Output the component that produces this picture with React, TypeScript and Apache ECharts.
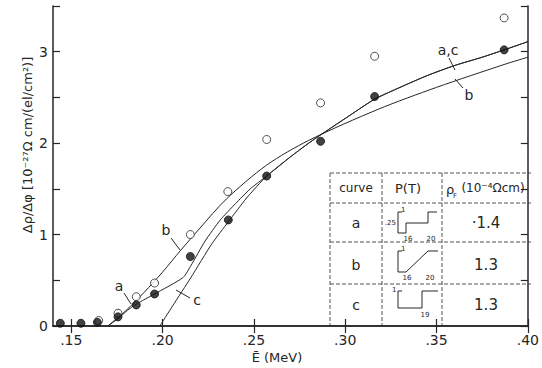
import React, { useEffect, useRef } from "react";
import * as echarts from "echarts";

// ---- data ----
const xTickValues = [0.15, 0.2, 0.25, 0.3, 0.35, 0.4];
const yLabelValues = [0, 1, 2, 3];

const openE = [0.165, 0.1756, 0.1856, 0.1956, 0.2152, 0.2357, 0.257, 0.2865, 0.3161, 0.387];
const openY = [0.06, 0.14, 0.32, 0.47, 1.0, 1.47, 2.04, 2.44, 2.95, 3.37];

const filledE = [0.144, 0.1553, 0.1643, 0.1756, 0.1856, 0.1956, 0.2152, 0.236, 0.257, 0.2865, 0.3161, 0.387];
const filledY = [0.03, 0.03, 0.04, 0.1, 0.23, 0.35, 0.76, 1.16, 1.64, 2.02, 2.51, 3.02];

const curveBE = [0.17, 0.18, 0.19, 0.2, 0.21, 0.22, 0.235, 0.257, 0.28, 0.318, 0.35, 0.387, 0.4];
const curveBY = [0, 0.17, 0.37, 0.59, 0.83, 1.06, 1.39, 1.76, 2.03, 2.37, 2.61, 2.86, 2.94];

const curveAE = [0.17, 0.1756, 0.1807, 0.1856, 0.1956, 0.2112, 0.2155, 0.2233, 0.2316, 0.24, 0.248];
const curveAY = [0, 0.08, 0.17, 0.24, 0.35, 0.53, 0.66, 0.93, 1.16, 1.34, 1.5];

const curveCE = [0.1985, 0.2055, 0.2155, 0.227, 0.236, 0.246];
const curveCY = [0, 0.22, 0.53, 0.9, 1.14, 1.4];

// shared tail of curves a and c
const curveACE = [0.257, 0.27, 0.28, 0.2865, 0.3, 0.316, 0.33, 0.345, 0.36, 0.375, 0.387, 0.4];
const curveACY = [1.64, 1.85, 2.0, 2.09, 2.27, 2.48, 2.61, 2.74, 2.85, 2.94, 3.02, 3.11];

const tableRows = ["a", "b", "c"];
const tableRho = ["·1.4", "1.3", "1.3"];

const FONT = "DejaVu Sans";
const INK = "#262626";

function pairs(xs: number[], ys: number[]) {
  return xs.map((x, i) => [x, ys[i]]);
}

export default function App() {
  const ref = useRef<HTMLDivElement>(null);

  useEffect(() => {
    if (!ref.current) return;
    const chart = echarts.init(ref.current, null, { renderer: "svg" });

    const lineStyle = { color: INK, width: 1 };
    const dash = { stroke: "#555", lineWidth: 1, lineDash: [4, 2] };
    const thin = { stroke: INK, lineWidth: 1, fill: null as any };
    const small = { fontSize: 7, fontFamily: FONT, fill: INK };

    const txt = (text: string, x: number, y: number, size: number, extra: any = {}) => ({
      type: "text",
      x,
      y,
      style: {
        text,
        fontSize: size,
        fontFamily: FONT,
        fill: INK,
        textAlign: "center",
        textVerticalAlign: "middle",
        ...extra,
      },
    });
    const seg = (x1: number, y1: number, x2: number, y2: number, style: any = { stroke: INK, lineWidth: 1 }) => ({
      type: "line",
      shape: { x1, y1, x2, y2 },
      style,
    });
    const poly = (points: number[][]) => ({ type: "polyline", shape: { points }, style: thin });

    const rowY = [223, 265, 305];

    const graphics: any[] = [
      // axis titles
      {
        type: "text",
        x: 27,
        y: 145,
        rotation: Math.PI / 2,
        style: {
          text: "Δρ/Δφ [10⁻²⁷Ω cm/(el/cm²)]",
          fontSize: 13,
          fontFamily: FONT,
          fill: INK,
          textAlign: "center",
          textVerticalAlign: "middle",
        },
      },
      txt("Ē (MeV)", 277, 357, 13),
      // curve labels
      txt("a", 119, 286, 14),
      seg(124, 293, 131, 304),
      txt("b", 166, 230, 14),
      seg(171, 238, 180, 250),
      txt("c", 197, 300, 14),
      seg(190, 298, 176, 290),
      txt("a,c", 448, 50, 14),
      seg(449, 58, 455, 70),
      txt("b", 469, 95, 14),
      seg(463, 88, 455, 79),
      // table lines
      seg(330, 173, 531, 173, dash),
      seg(330, 203, 531, 203, dash),
      seg(330, 242, 531, 242, dash),
      seg(330, 284, 531, 284, dash),
      seg(330, 173, 330, 326, dash),
      seg(382, 173, 382, 326, dash),
      seg(442, 173, 442, 326, dash),
      // table header
      txt("curve", 356, 188, 12),
      txt("P(T)", 408, 188, 13),
      txt("ρ", 450, 189, 13),
      txt("F", 455, 196, 7),
      txt("(10⁻⁴Ωcm)", 493, 188, 12),
    ];

    tableRows.forEach((r, i) => {
      graphics.push(txt(r, 356, rowY[i], 14));
      graphics.push(txt(tableRho[i], 486, rowY[i], 15));
    });

    // mini P(T) sketches
    graphics.push(
      poly([[402, 212], [398, 212], [398, 233], [406, 233]]),
      poly([[406, 233], [406, 223], [428, 223], [428, 212], [437, 212]]),
      { type: "text", x: 401, y: 206, style: { ...small, text: "1", textAlign: "left" } },
      { type: "text", x: 396, y: 219, style: { ...small, text: ".25", textAlign: "right" } },
      { type: "text", x: 408, y: 235, style: { ...small, text: "16", textAlign: "center" } },
      { type: "text", x: 431, y: 235, style: { ...small, text: "20", textAlign: "center" } },

      poly([[402, 251], [398, 251], [398, 272], [406, 272]]),
      poly([[406, 272], [428, 251], [438, 251]]),
      { type: "text", x: 401, y: 245, style: { ...small, text: "1", textAlign: "left" } },
      { type: "text", x: 407, y: 274, style: { ...small, text: "16", textAlign: "center" } },
      { type: "text", x: 430, y: 274, style: { ...small, text: "20", textAlign: "center" } },

      poly([[402, 291], [398, 291], [398, 308], [422, 308]]),
      poly([[422, 308], [422, 291], [438, 291]]),
      { type: "text", x: 392, y: 286, style: { ...small, text: "1", textAlign: "left" } },
      { type: "text", x: 425, y: 311, style: { ...small, text: "19", textAlign: "center" } }
    );

    const axisLine = { show: true, lineStyle: { color: INK, width: 1.5 } };
    const tickStyle = { color: INK, width: 1.2 };

    chart.setOption({
      animation: false,
      backgroundColor: "#fff",
      grid: { left: 53, right: 11, top: 6, bottom: 42, containLabel: false },
      xAxis: [
        {
          type: "value",
          min: 0.14,
          max: 0.4,
          position: "bottom",
          axisLine,
          axisTick: { show: true, inside: true, length: 7, customValues: xTickValues, lineStyle: tickStyle },
          axisLabel: {
            customValues: xTickValues,
            formatter: (v: number) => "." + Math.round(v * 100),
            margin: 7,
            fontSize: 14,
            fontFamily: FONT,
            color: INK,
          },
          splitLine: { show: false },
        },
        {
          type: "value",
          min: 0.14,
          max: 0.4,
          position: "top",
          axisLine,
          axisTick: { show: true, inside: true, length: 7, customValues: xTickValues, lineStyle: tickStyle },
          axisLabel: { show: false },
          splitLine: { show: false },
        },
      ],
      yAxis: [
        {
          type: "value",
          min: 0,
          max: 3.5,
          interval: 0.5,
          position: "left",
          axisLine,
          axisTick: { show: true, inside: true, length: 7, lineStyle: tickStyle },
          axisLabel: {
            formatter: (v: number) => (yLabelValues.includes(v) ? String(v) : ""),
            margin: 5,
            fontSize: 14,
            fontFamily: FONT,
            color: INK,
          },
          splitLine: { show: false },
        },
        {
          type: "value",
          min: 0,
          max: 3.5,
          interval: 0.5,
          position: "right",
          axisLine,
          axisTick: { show: true, inside: true, length: 7, lineStyle: tickStyle },
          axisLabel: { show: false },
          splitLine: { show: false },
        },
      ],
      series: [
        { type: "line", data: pairs(curveBE, curveBY), symbol: "none", smooth: 0.3, lineStyle },
        { type: "line", data: pairs(curveAE, curveAY).concat(pairs(curveACE, curveACY)), symbol: "none", smooth: 0.2, lineStyle },
        { type: "line", data: pairs(curveCE, curveCY).concat(pairs(curveACE, curveACY)), symbol: "none", smooth: 0.2, lineStyle },
        {
          type: "scatter",
          data: pairs(openE, openY),
          symbol: "circle",
          symbolSize: 8,
          itemStyle: { color: "#fff", borderColor: INK, borderWidth: 1 },
          z: 5,
        },
        {
          type: "scatter",
          data: pairs(filledE, filledY),
          symbol: "circle",
          symbolSize: 8,
          itemStyle: { color: "#111", borderColor: "#111", borderWidth: 1 },
          z: 6,
        },
      ],
      graphic: graphics,
    });

    return () => chart.dispose();
  }, []);

  return <div ref={ref} style={{ width: 542, height: 368, position: "absolute", left: 0, top: 0 }} />;
}
